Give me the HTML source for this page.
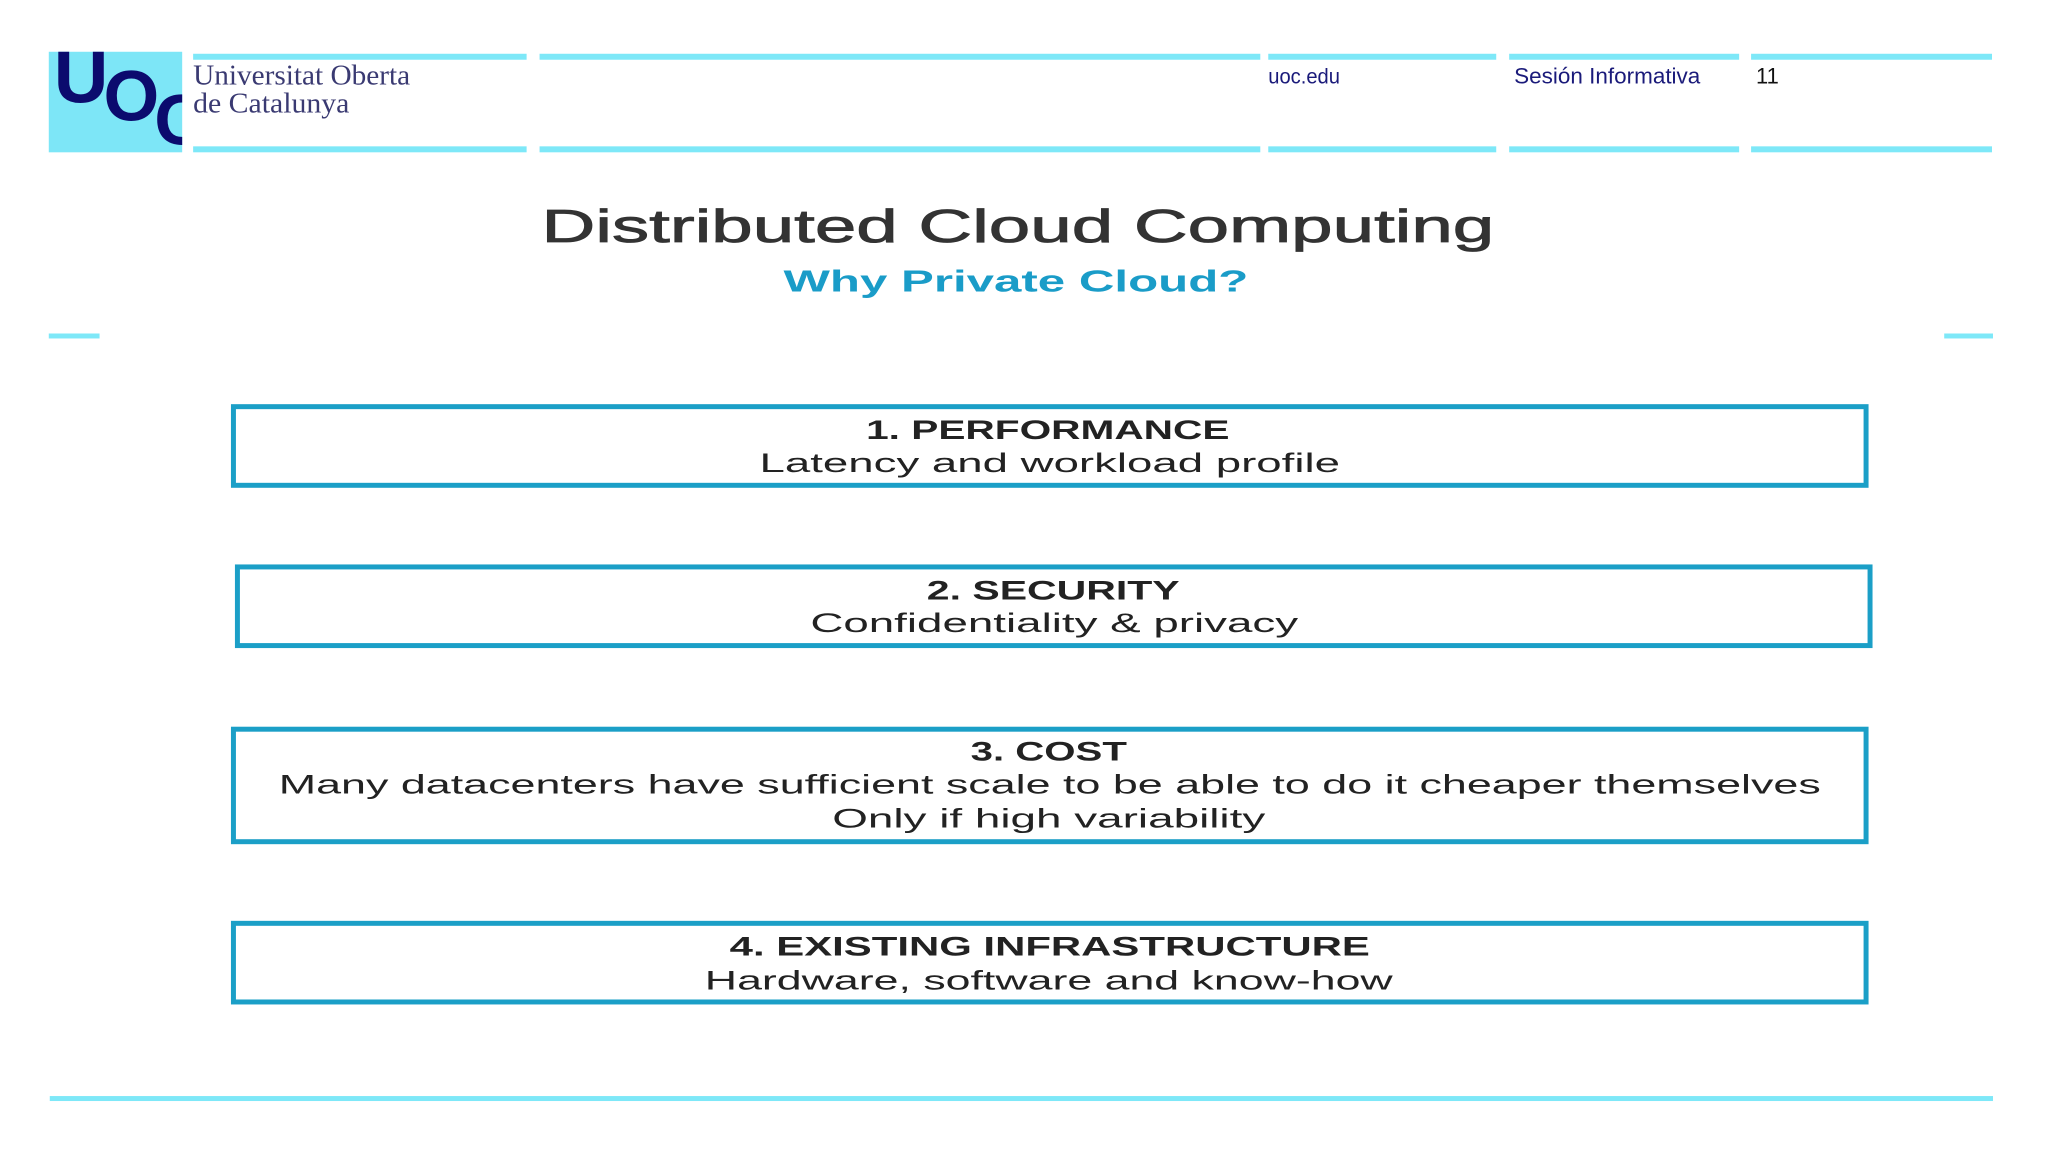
<!DOCTYPE html>
<html><head><meta charset="utf-8"><style>
html,body{margin:0;padding:0;background:#fff;}
svg{display:block;}
</style></head><body>
<svg width="2048" height="1152" viewBox="0 0 2048 1152" xmlns="http://www.w3.org/2000/svg" font-family="Liberation Sans, sans-serif">
<rect width="2048" height="1152" fill="#ffffff"/>
<g transform="scale(0.9955)">
<defs><clipPath id="lg"><rect x="49" y="52" width="134" height="101"/></clipPath></defs>
<rect x="49" y="52" width="134" height="101" fill="#7de6f7"/>
<g clip-path="url(#lg)" fill="#0b0b6e" font-weight="bold">
<text x="54" y="103" font-size="76" transform="scale(1,1)">U</text>
<text x="104" y="121" font-size="72">O</text>
<text x="155" y="145" font-size="72">C</text>
</g>
<g fill="#7ee8f8">
<rect x="194" y="54" width="335" height="6"/>
<rect x="542" y="54" width="724" height="6"/>
<rect x="1274" y="54" width="229" height="6"/>
<rect x="1516" y="54" width="231" height="6"/>
<rect x="1759" y="54" width="242" height="6"/>
<rect x="194" y="147" width="335" height="6"/>
<rect x="542" y="147" width="724" height="6"/>
<rect x="1274" y="147" width="229" height="6"/>
<rect x="1516" y="147" width="231" height="6"/>
<rect x="1759" y="147" width="242" height="6"/>
<rect x="49" y="335" width="51" height="5"/>
<rect x="1953" y="335" width="49" height="5"/>
<rect x="50" y="1101" width="1952" height="5"/>
</g>
<text x="194" y="85" font-family="Liberation Serif, serif" font-size="29" fill="#3a3a72" textLength="218" lengthAdjust="spacingAndGlyphs">Universitat Oberta</text>
<text x="194" y="113" font-family="Liberation Serif, serif" font-size="29" fill="#3a3a72" textLength="157" lengthAdjust="spacingAndGlyphs">de Catalunya</text>
<text x="1274" y="84" font-size="21" fill="#1a1a7a" textLength="72" lengthAdjust="spacingAndGlyphs">uoc.edu</text>
<text x="1521" y="84" font-size="22" fill="#1a1a7a" textLength="187" lengthAdjust="spacingAndGlyphs">Sesión Informativa</text>
<text x="1764" y="84" font-size="22" fill="#111">11</text>
<text x="544" y="243" font-size="47" fill="#333" stroke="#333" stroke-width="0.8" textLength="957" lengthAdjust="spacingAndGlyphs">Distributed Cloud Computing</text>
<text x="787" y="293" font-size="31" font-weight="bold" fill="#1a9cc8" textLength="467" lengthAdjust="spacingAndGlyphs">Why Private Cloud?</text>
<g fill="none" stroke="#1b9fc7" stroke-width="5">
<rect x="234.5" y="408.5" width="1640" height="79"/>
<rect x="238.5" y="569.5" width="1640" height="79"/>
<rect x="234.5" y="732.5" width="1640" height="113"/>
<rect x="234.5" y="927.5" width="1640" height="79"/>
</g>
<g fill="#222">
<text x="870" y="441" font-size="27" font-weight="bold" textLength="365" lengthAdjust="spacingAndGlyphs">1. PERFORMANCE</text>
<text x="763" y="474" font-size="27" textLength="583" lengthAdjust="spacingAndGlyphs">Latency and workload profile</text>
<text x="931" y="602" font-size="27" font-weight="bold" textLength="254" lengthAdjust="spacingAndGlyphs">2. SECURITY</text>
<text x="814" y="635" font-size="27" textLength="490" lengthAdjust="spacingAndGlyphs">Confidentiality &amp; privacy</text>
<text x="975" y="764" font-size="27" font-weight="bold" textLength="157" lengthAdjust="spacingAndGlyphs">3. COST</text>
<text x="280" y="797" font-size="27" textLength="1549" lengthAdjust="spacingAndGlyphs">Many datacenters have sufficient scale to be able to do it cheaper themselves</text>
<text x="836" y="831" font-size="27" textLength="435" lengthAdjust="spacingAndGlyphs">Only if high variability</text>
<text x="733" y="960" font-size="27" font-weight="bold" textLength="643" lengthAdjust="spacingAndGlyphs">4. EXISTING INFRASTRUCTURE</text>
<text x="708" y="994" font-size="27" textLength="691" lengthAdjust="spacingAndGlyphs">Hardware, software and know-how</text>
</g>
</g>
</svg>
</body></html>
